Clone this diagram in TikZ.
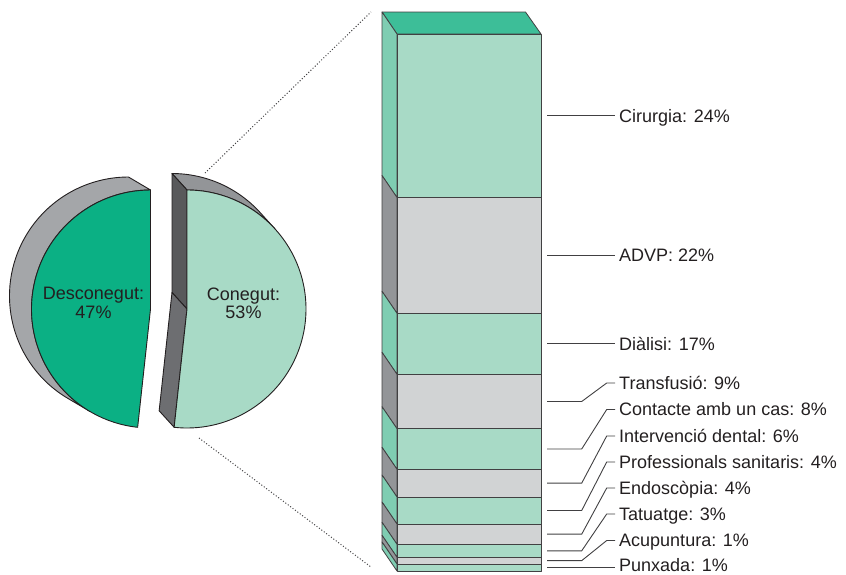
\documentclass[tikz,border=0pt]{standalone}
\usepackage{fontspec}
\setmainfont{Liberation Sans}
\usetikzlibrary{calc}

\definecolor{darkgreen}{HTML}{0BB084}
\definecolor{palegreen}{HTML}{A8DAC6}
\definecolor{sidegreen}{HTML}{7FCDB2}
\definecolor{topgreen}{HTML}{3DBE98}
\definecolor{palegray}{HTML}{D1D3D4}
\definecolor{sidegray}{HTML}{939598}
\definecolor{rimgray}{HTML}{A4A6A9}
\definecolor{rimdark}{HTML}{939598}
\definecolor{cutdark}{HTML}{58595B}
\definecolor{cutmid}{HTML}{6D6E71}
\definecolor{ink}{HTML}{231F20}
\definecolor{edge}{HTML}{414042}

\tikzset{
  piece/.style={draw=ink, line width=0.9pt, line join=round},
  barface/.style={draw=edge, line width=0.8pt, line join=round},
  leader/.style={draw=edge, line width=0.9pt},
  zoomline/.style={draw=edge, line width=1pt, dash pattern=on 1pt off 2pt},
  lbl/.style={anchor=west, inner xsep=4pt, inner ysep=0pt, text=ink,
    font=\fontsize{18}{20}\selectfont, text height=12.9pt, text depth=0pt},
  pielbl/.style={align=center, inner sep=0pt, text=ink,
    font=\fontsize{18}{18.3}\selectfont}
}

\begin{document}
\begin{tikzpicture}[x=1pt, y=1pt, yscale=-1]
\useasboundingbox (0,0) rectangle (846,574);
\def\r{119}

% ---- left slice: Desconegut ----
\coordinate (F1) at (150.5,309);
\coordinate (B1) at (128.5,296);
\filldraw[piece, fill=rimgray]
  ($(B1)+(120.6:\r)$) arc[start angle=120.6, end angle=270, radius=\r]
  -- ($(F1)+(270:\r)$) arc[start angle=270, end angle=120.6, radius=\r] -- cycle;
\filldraw[piece, fill=darkgreen]
  (F1) -- ($(F1)+(96.2:\r)$) arc[start angle=96.2, end angle=270, radius=\r] -- cycle;
\node[pielbl] (tdes) at (93.5,303) {Desconegut:\\47\%};

% ---- right slice: Conegut ----
\coordinate (F2) at (187,309);
\coordinate (B2) at (172,292.5);
\filldraw[piece, fill=rimdark]
  ($(B2)+(-90:\r)$) arc[start angle=-90, end angle=-42.3, radius=\r]
  -- ($(F2)+(-42.3:\r)$) arc[start angle=-42.3, end angle=-90, radius=\r] -- cycle;
\filldraw[piece, fill=cutdark]
  ($(F2)+(-90:\r)$) -- (F2) -- (B2) -- ($(B2)+(-90:\r)$) -- cycle;
\filldraw[piece, fill=cutmid]
  (F2) -- ($(F2)+(96.2:\r)$) -- ($(B2)+(96.2:\r)$) -- (B2) -- cycle;
\filldraw[piece, fill=palegreen]
  (F2) -- ($(F2)+(-90:\r)$) arc[start angle=-90, end angle=96.2, radius=\r] -- cycle;
\node[pielbl] (tcon) at (243.5,303) {Conegut:\\53\%};

% ---- stacked bar ----
\filldraw[barface, fill=topgreen] (382,12) -- (525.5,12) -- (541,34) -- (397,34) -- cycle;
\foreach \ya/\yb/\fc/\sc/\nm in {
   34/197.5/palegreen/sidegreen/cir,
   197.5/313.3/palegray/sidegray/advp,
   313.3/374.3/palegreen/sidegreen/dia,
   374.3/428.7/palegray/sidegray/tra,
   428.7/469.3/palegreen/sidegreen/con,
   469.3/497/palegray/sidegray/int,
   497/524/palegreen/sidegreen/pro,
   524/544.3/palegray/sidegray/end,
   544.3/557.3/palegreen/sidegreen/tat,
   557.3/564/palegray/sidegray/acu,
   564/571/palegreen/sidegreen/pun}{
  \filldraw[barface, fill=\sc] (397,\ya) -- (397,\yb) -- (382,\yb-22) -- (382,\ya-22) -- cycle;
  \filldraw[barface, fill=\fc] (397,\ya) rectangle (541,\yb);
  \coordinate (\nm) at (547,{(\ya+\yb)/2});
}

% ---- dotted lines from the slice to the bar ----
\coordinate (zt1) at (205,173);
\coordinate (zt2) at (371,12);
\coordinate (zb1) at (199,438);
\coordinate (zb2) at (371,567);
\draw[zoomline] (zt1) -- (zt2);
\draw[zoomline] (zb1) -- (zb2);

% ---- labels ----
\node[lbl] (lcir) at (615,115.75) {Cirurgia: 24\%};
\node[lbl] (ladvp) at (615,255.4) {ADVP: 22\%};
\node[lbl] (ldia) at (615,343.8) {Diàlisi: 17\%};
\node[lbl] (ltra) at (615,383) {Transfusió: 9\%};
\node[lbl] (lcon) at (615,409.5) {Contacte amb un cas: 8\%};
\node[lbl] (lint) at (615,436) {Intervenció dental: 6\%};
\node[lbl] (lpro) at (615,462) {Professionals sanitaris: 4\%};
\node[lbl] (lend) at (615,488) {Endoscòpia: 4\%};
\node[lbl] (ltat) at (615,514) {Tatuatge: 3\%};
\node[lbl] (lacu) at (615,540.5) {Acupuntura: 1\%};
\node[lbl] (lpun) at (615,565.5) {Punxada: 1\%};

\draw[leader] (cir) -- (lcir.west);
\draw[leader] (advp) -- (ladvp.west);
\draw[leader] (dia) -- (ldia.west);
\foreach \s in {tra,con,int,pro,end,tat,acu}{
  \draw[leader] (\s) -- ++(34.7,0) -- ($(l\s.west)+(-8.3,0)$) -- (l\s.west);
}
\draw[leader] (pun) -- (pun -| lpun.west);
\end{tikzpicture}
\end{document}
